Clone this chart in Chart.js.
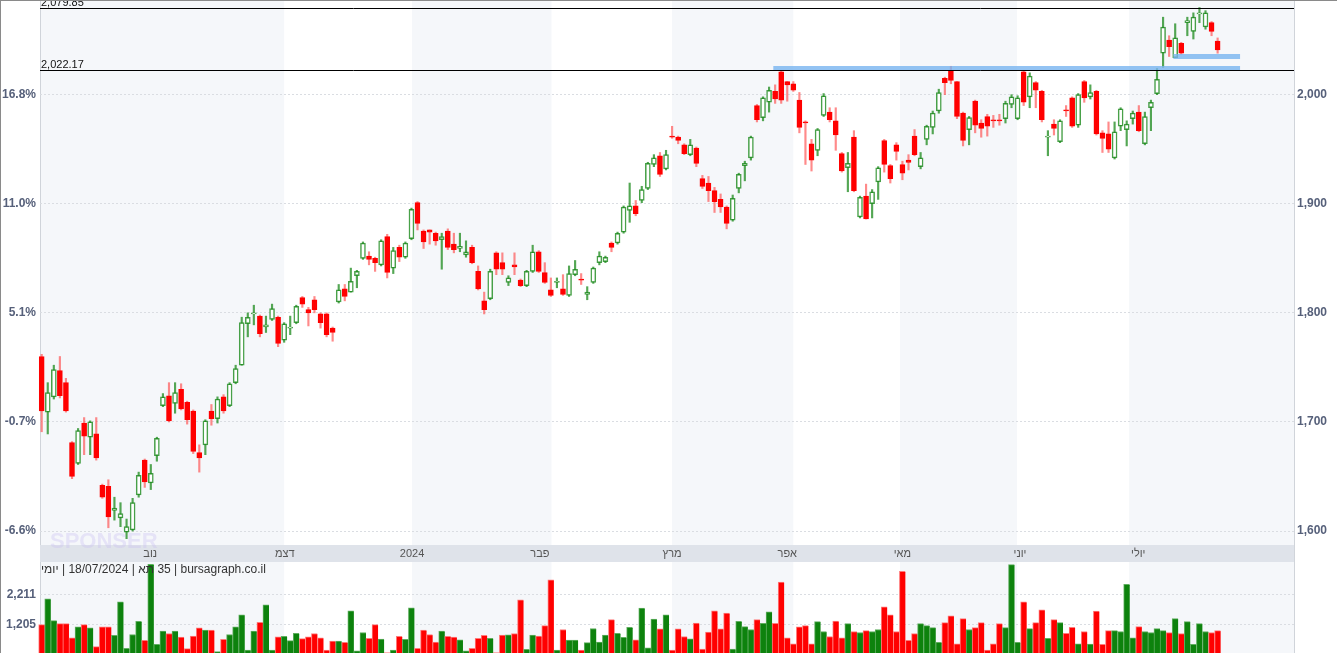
<!DOCTYPE html>
<html>
<head>
<meta charset="utf-8">
<script src="https://cdn.jsdelivr.net/npm/chart.js@4.4.1/dist/chart.umd.min.js"></script>
<style>
  body { margin: 0; background: #fff; overflow: hidden; font-family: Arial, "Liberation Sans", sans-serif; }
  #wrap { position: relative; width: 1337px; height: 653px; overflow: hidden; }
  canvas { position: absolute; left: 0; }
  #main { top: 0; }
  #vol { top: 562px; }
  .edge { position: absolute; background: #8a8a8a; }
</style>
</head>
<body>
<div id="wrap">
  <canvas id="vol" width="1337" height="115"></canvas>
  <canvas id="main" width="1337" height="562"></canvas>
  <div class="edge" style="left:0;top:0;width:1337px;height:1px"></div>
  <div class="edge" style="left:0;top:0;width:1px;height:653px"></div>
</div>
<script>
// daily candles, TA-35, 26/10/2023 .. 18/07/2024
const opens = [1760,1709,1723,1747,1736,1681,1662,1699,1686,1689,1642,1641,1619,1612,1599,1601,1633,1665,1644,1669,
  1715,1724,1717,1730,1718,1710,1672,1679,1710,1703,1723,1715,1736,1752,1790,1799,1797,1787,1794,1796,
  1775,1786,1791,1814,1803,1812,1799,1799,1786,1810,1822,1819,1834,1850,1852,1850,1844,1870,1841,1860,
  1851,1868,1901,1875,1876,1873,1867,1875,1863,1859,1853,1860,1838,1811,1813,1855,1846,1828,1844,1830,
  1825,1838,1856,1837,1821,1828,1822,1816,1835,1831,1817,1828,1846,1847,1864,1864,1874,1894,1898,1903,
  1914,1936,1944,1932,1962,1961,1954,1945,1951,1923,1919,1912,1904,1897,1885,1914,1935,1942,1990,1979,
  1993,2003,2021,2012,2010,1995,1975,1955,1949,1981,1984,1976,1946,1933,1961,1888,1907,1900,1920,1958,
  1935,1954,1936,1940,1962,1934,1959,1970,1985,2015,2022,2012,1983,1968,1994,1974,1980,1977,1977,1978,
  1991,1978,2021,1998,2011,2003,1961,1973,1957,1986,1997,1972,2012,1998,2003,1965,1964,1942,1971,1968,
  1978,1984,1955,1988,2001,2038,2050,2034,2047,2066,2058,2074,2062,2066,2049];
const highs = [1762,1736,1752,1760,1740,1682,1694,1704,1701,1704,1643,1647,1631,1626,1611,1630,1654,1666,1661,1686,
  1726,1736,1736,1735,1719,1711,1679,1702,1716,1723,1725,1736,1752,1796,1800,1807,1798,1797,1808,1797,
  1791,1797,1807,1815,1805,1815,1800,1800,1787,1826,1826,1841,1839,1865,1856,1851,1867,1872,1860,1862,
  1865,1896,1902,1876,1876,1874,1873,1877,1873,1873,1866,1862,1843,1819,1840,1856,1855,1834,1855,1831,
  1839,1862,1857,1846,1832,1832,1835,1843,1848,1836,1824,1842,1856,1852,1865,1874,1898,1919,1903,1916,
  1938,1945,1947,1949,1971,1962,1955,1959,1952,1926,1925,1915,1909,1898,1908,1928,1939,1962,1991,1998,
  2007,2009,2022,2012,2012,2002,1976,1959,1969,2001,1988,1988,1947,1947,1967,1907,1918,1913,1934,1959,
  1936,1956,1939,1945,1968,1947,1972,1985,2005,2016,2026,2012,1984,1980,1995,1977,1982,1981,1982,1994,
  2000,1999,2022,2020,2012,2004,1967,1977,1977,1990,1998,2001,2013,2009,2004,1967,1975,1975,1988,1976,
  1985,1990,1984,1995,2024,2071,2054,2065,2048,2071,2075,2079.85,2077,2067,2052];
const lows = [1691,1689,1721,1722,1709,1648,1661,1670,1670,1665,1630,1603,1610,1604,1593,1600,1631,1640,1638,1664,
  1714,1700,1708,1711,1698,1671,1654,1670,1697,1699,1708,1714,1735,1752,1778,1789,1778,1782,1793,1769,
  1773,1780,1790,1805,1788,1800,1786,1778,1774,1809,1811,1819,1823,1849,1844,1838,1843,1832,1836,1847,
  1850,1867,1876,1859,1863,1862,1840,1858,1855,1856,1851,1845,1821,1799,1812,1835,1835,1825,1835,1824,
  1824,1837,1837,1827,1815,1823,1816,1815,1834,1826,1812,1827,1844,1846,1856,1863,1873,1883,1889,1901,
  1913,1934,1925,1931,1960,1955,1945,1944,1934,1914,1902,1892,1892,1877,1884,1910,1921,1940,1975,1976,
  1984,1992,1992,1994,2003,1965,1936,1930,1944,1980,1975,1949,1929,1911,1911,1887,1886,1887,1904,1929,
  1919,1940,1922,1931,1944,1932,1954,1964,1983,2000,2010,1978,1953,1954,1965,1961,1962,1970,1972,1974,
  1988,1977,1990,1988,1988,1975,1944,1963,1956,1980,1970,1970,1993,1996,1963,1947,1947,1941,1967,1953,
  1973,1966,1954,1967,2000,2025,2035,2034,2037,2054,2051,2066,2060,2054,2038];
const closes = [1710,1727,1748,1724,1710,1650,1692,1687,1700,1667,1631,1613,1621,1616,1604,1626,1651,1645,1653,1685,
  1723,1701,1727,1712,1702,1673,1667,1701,1703,1721,1710,1735,1749,1791,1796,1800,1781,1789,1804,1772,
  1790,1787,1806,1808,1800,1803,1791,1780,1782,1821,1815,1829,1838,1864,1849,1846,1866,1837,1857,1851,
  1864,1895,1882,1865,1874,1866,1870,1860,1858,1861,1856,1846,1822,1803,1838,1840,1840,1832,1842,1825,
  1838,1856,1838,1828,1816,1829,1817,1836,1840,1830,1819,1841,1852,1851,1860,1873,1897,1898,1891,1913,
  1937,1942,1927,1945,1961,1958,1946,1954,1937,1916,1912,1902,1897,1882,1905,1927,1937,1961,1977,1997,
  2004,1996,1995,2009,2004,1970,1974,1940,1968,1999,1977,1963,1930,1937,1912,1906,1886,1911,1933,1936,
  1923,1948,1928,1938,1945,1942,1971,1983,2002,2011,2013,1980,1958,1979,1972,1969,1971,1976,1976,1992,
  1998,1997,1993,2017,2004,1977,1962,1969,1976,1985,1971,2000,1997,2002,1964,1960,1950,1966,1987,1973,
  1983,1967,1980,1993,2014,2062,2044,2052,2038,2068,2071,2075,2075,2058,2041];
const volumes = [1195,2065,1329,1229,1229,748,1117,1195,1083,447,1117,1117,827,1965,391,860,1307,659,3238,525,
  972,894,972,771,380,804,1083,1005,1005,280,692,860,1117,1530,335,972,1274,1866,335,782,
  800,650,900,720,782,894,748,335,637,637,592,1664,302,927,726,1195,704,246,335,793,
  692,1765,391,1005,860,604,972,793,771,681,302,391,726,827,726,246,838,849,894,2032,
  358,838,804,1162,2714,335,1027,670,670,335,581,1061,604,838,1363,900,760,1100,680,
  1751,411,1384,1049,1529,328,1049,792,714,1250,367,937,1663,1049,1585,367,1306,1127,1027,1362,
  1239,1630,1239,2636,747,546,1116,1161,546,1295,960,792,1317,747,1228,960,926,993,960,1027,
  1798,1529,960,3004,658,893,1228,1161,1094,591,1261,1496,546,1395,1027,1094,1261,328,546,1228,
  1094,3228,591,1963,1060,1261,1697,725,1362,1261,900,1100,546,960,535,1652,524,993,993,960,
  2558,747,1127,960,926,1060,993,926,1395,893,1295,524,1228,960,926,993];

// axes
const priceTicks = [1600, 1700, 1800, 1900, 2000];
const pctLabels = ['-6.6%', '-0.7%', '5.1%', '11.0%', '16.8%'];
const volTicks = [1205, 2211];
const levelLines = [2079.85, 2022.17];
// month bands (candle index ranges shaded) and month labels
const shadedFrom = [-0.3, 61.1, 104, 141.6, 179.4];
const shadedTo = [40, 84.1, 124, 160.9, 206.6];
const monthLabels = ['נוב', 'דצמ', '2024', 'פבר', 'מרץ', 'אפר', 'מאי', 'יוני', 'יולי'];
const monthAt = [17.9, 40.1, 61.1, 82.2, 104, 123, 142, 161.4, 180.9];
// support zones
const zonePrice = [2024, 2035];
const zoneFrom = [120.7, 186.7];
const zoneTo = [197.7, 197.7];

const X_MIN = -0.28, X_MAX = 206.6;
const RED = '#ff0000';
const up = closes.map((c, i) => c >= opens[i]);
const fmt = v => v.toLocaleString('en-US');
const xScale = { type: 'linear', min: X_MIN, max: X_MAX, offset: false, bounds: 'ticks', display: false };

const bands = {
  id: 'bands',
  beforeDraw(chart) {
    const { ctx, chartArea: a, scales: { x } } = chart;
    ctx.save();
    ctx.fillStyle = '#fff';
    ctx.fillRect(0, 0, chart.width, chart.height);
    ctx.fillStyle = '#f5f7fa';
    shadedFrom.forEach((f, k) => {
      const l = Math.max(a.left, x.getPixelForValue(f)), r = Math.min(a.right, x.getPixelForValue(shadedTo[k]));
      ctx.fillRect(l, 0, r - l, a.bottom);
    });
    ctx.strokeStyle = '#d0d4da';
    ctx.lineWidth = 1;
    ctx.beginPath();
    ctx.moveTo(a.left + 0.5, 0); ctx.lineTo(a.left + 0.5, chart.height);
    ctx.moveTo(a.right + 0.5, 0); ctx.lineTo(a.right + 0.5, chart.height);
    ctx.stroke();
    ctx.restore();
  }
};

const overlays = {
  id: 'overlays',
  afterDatasetsDraw(chart) {
    const { ctx, chartArea: a, scales: { x, y } } = chart;
    ctx.save();
    ctx.strokeStyle = 'rgba(120,180,240,0.8)';
    ctx.lineWidth = 5;
    zonePrice.forEach((p, k) => {
      const py = y.getPixelForValue(p);
      ctx.beginPath();
      ctx.moveTo(x.getPixelForValue(zoneFrom[k]), py);
      ctx.lineTo(x.getPixelForValue(zoneTo[k]), py);
      ctx.stroke();
    });
    ctx.strokeStyle = '#000';
    ctx.lineWidth = 1;
    ctx.fillStyle = '#111';
    ctx.font = '11px Arial';
    ctx.textBaseline = 'bottom';
    levelLines.forEach(p => {
      const py = Math.round(y.getPixelForValue(p)) + 0.5;
      ctx.beginPath(); ctx.moveTo(a.left, py); ctx.lineTo(a.right, py); ctx.stroke();
      ctx.fillText(p.toLocaleString('en-US', { minimumFractionDigits: 2 }), a.left + 1, py - 0.5);
    });
    ctx.fillStyle = '#dfe3ea';
    ctx.fillRect(a.left, a.bottom, a.right - a.left, 17);
    ctx.fillStyle = '#555';
    ctx.font = '11px Arial';
    ctx.textAlign = 'center';
    ctx.textBaseline = 'middle';
    monthLabels.forEach((t, k) => ctx.fillText(t, x.getPixelForValue(monthAt[k]), a.bottom + 8.5));
    ctx.fillStyle = 'rgba(200,190,240,0.35)';
    ctx.font = 'bold 22px Arial';
    ctx.textAlign = 'left';
    ctx.fillText('SPONSER', 50, a.bottom - 3);
    ctx.restore();
  }
};

new Chart(document.getElementById('main'), {
  type: 'bar',
  data: {
    datasets: [
      {
        data: lows.map((l, i) => ({ x: i, y: [l, highs[i]] })),
        backgroundColor: up.map(u => u ? 'rgba(27,138,27,0.75)' : 'rgba(255,60,60,0.6)'),
        barThickness: 1.5, grouped: false, order: 2, clip: false
      },
      {
        data: opens.map((o, i) => ({ x: i, y: [Math.min(o, closes[i]), Math.max(o, closes[i])] })),
        backgroundColor: up.map(u => u ? '#ffffff' : RED),
        borderColor: up.map(u => u ? 'rgba(27,138,27,0.8)' : RED),
        borderWidth: 1.5, borderSkipped: false,
        barThickness: 5, grouped: false, order: 1, clip: false
      }
    ]
  },
  options: {
    responsive: false, animation: false,
    layout: { padding: { top: 0, bottom: 17 } },
    plugins: { legend: { display: false }, tooltip: { enabled: false } },
    scales: {
      x: xScale,
      y: {
        position: 'right', min: 1587.2, max: 2076.5,
        afterFit: s => { s.width = 43; },
        afterBuildTicks: s => { s.ticks = priceTicks.map(v => ({ value: v })); },
        ticks: { callback: v => fmt(v), color: '#56607a', font: { size: 12, weight: 'bold', family: 'Arial' }, padding: 3 },
        grid: { color: '#dadde2', drawTicks: false },
        border: { display: false, dash: [2, 2] }
      },
      y2: {
        position: 'left', min: 1587.2, max: 2076.5,
        afterFit: s => { s.width = 40; },
        afterBuildTicks: s => { s.ticks = priceTicks.map(v => ({ value: v })); },
        ticks: { callback: v => pctLabels[priceTicks.indexOf(v)], color: '#56607a', font: { size: 12, weight: 'bold', family: 'Arial' }, padding: 4 },
        grid: { drawOnChartArea: false, drawTicks: false },
        border: { display: false }
      }
    }
  },
  plugins: [bands, overlays]
});

const caption = {
  id: 'caption',
  afterDraw(chart) {
    const { ctx, chartArea: a } = chart;
    ctx.save();
    ctx.fillStyle = '#333';
    ctx.font = '12px Arial';
    ctx.textBaseline = 'middle';
    ctx.fillText('יומי\u200E | 18/07/2024 | תא\u200E 35 | bursagraph.co.il', a.left + 1, 8);
    ctx.restore();
  }
};

new Chart(document.getElementById('vol'), {
  type: 'bar',
  data: {
    datasets: [{
      data: volumes.map((v, i) => ({ x: i, y: v })),
      backgroundColor: up.map(u => u ? '#0d820d' : RED),
      borderColor: up.map(u => u ? '#5fae5f' : '#ff7a7a'),
      borderWidth: { top: 1, left: 1, right: 0, bottom: 0 },
      borderSkipped: false,
      barThickness: 6.06,
      clip: false
    }]
  },
  options: {
    responsive: false, animation: false,
    layout: { padding: { right: 43 } },
    plugins: { legend: { display: false }, tooltip: { enabled: false } },
    scales: {
      x: xScale,
      y: {
        position: 'left', min: -202, max: 2937,
        afterFit: s => { s.width = 40; },
        afterBuildTicks: s => { s.ticks = volTicks.map(v => ({ value: v })); },
        ticks: { callback: v => fmt(v), color: '#56607a', font: { size: 12, weight: 'bold', family: 'Arial' }, padding: 4 },
        grid: { color: '#dadde2', drawTicks: false },
        border: { display: false, dash: [2, 2] }
      }
    }
  },
  plugins: [bands, caption]
});
</script>
</body>
</html>
